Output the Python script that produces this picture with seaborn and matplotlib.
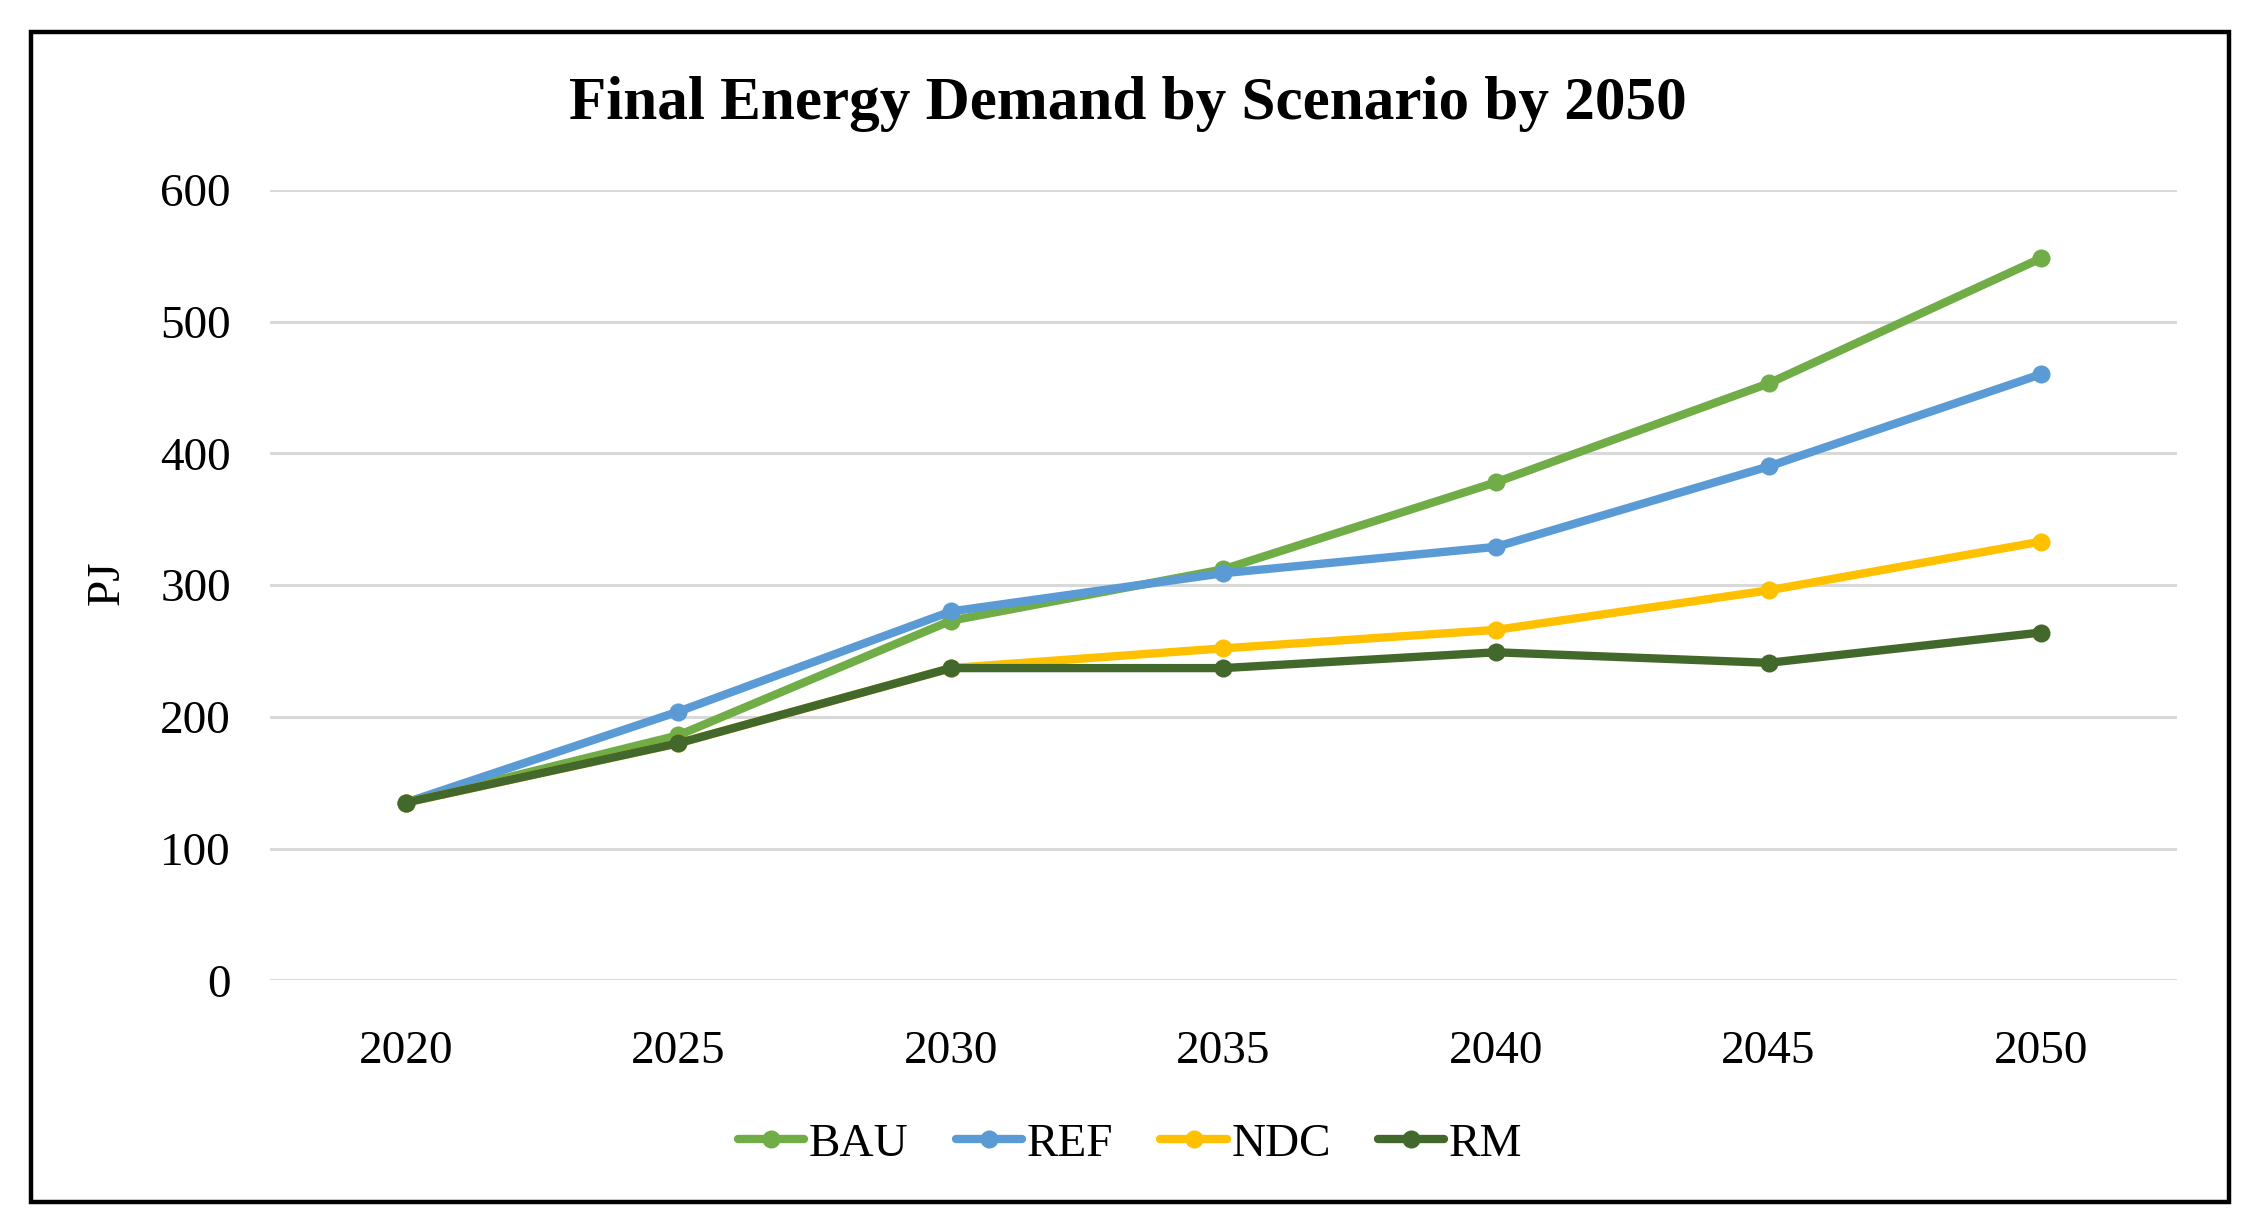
import numpy as np
import pandas as pd
import seaborn as sns
import matplotlib.pyplot as plt
from matplotlib.patches import Rectangle

# ------------------------------------------ Data ------------------------------------------ #
years = ['2020', '2025', '2030', '2035', '2040', '2045', '2050']
bau = [135, 186, 273, 312, 378, 453, 548]
ref = [135, 204, 280, 309, 329, 390, 460]
ndc = [135, 180, 237, 252, 266, 296, 333]
rm = [135, 180, 237, 237, 249, 241, 264]
scenarios = ['BAU', 'REF', 'NDC', 'RM']
colors = ['#70AD47', '#5B9BD5', '#FFC000', '#43682B']

df = pd.concat([
    pd.DataFrame({'Year': years, 'PJ': vals, 'Scenario': name})
    for name, vals in zip(scenarios, [bau, ref, ndc, rm])
], ignore_index=True)

# ------------------------------------------ Style ------------------------------------------ #
sns.set_theme(style='white')
font_name = 'Liberation Serif'
plt.rcParams['font.family'] = [font_name, 'DejaVu Serif']
plt.rcParams['text.color'] = 'black'
plt.rcParams['axes.labelcolor'] = 'black'

fig = plt.figure(figsize=(11.235, 6.12), dpi=200)
ax = fig.add_axes([0.120, 0.199, 0.849, 0.646])

sns.lineplot(data=df, x='Year', y='PJ', hue='Scenario', hue_order=scenarios,
             palette=colors, marker='o', markersize=6.5, markeredgewidth=0,
             linewidth=3, sort=False, ax=ax, legend=True)

ax.set_ylim(0, 600)
ax.set_xlim(-0.5, 6.5)
ax.set_yticks(np.arange(0, 601, 100))
ax.yaxis.grid(True, color='#D9D9D9', linewidth=1.1)
ax.set_axisbelow(True)
for s in ax.spines.values():
    s.set_visible(False)
ax.tick_params(axis='both', length=0, labelsize=17, colors='black')
ax.tick_params(axis='x', pad=18)
ax.tick_params(axis='y', pad=14)
ax.set_xlabel('')
ax.set_ylabel('')

fig.text(0.048, 0.524, 'PJ', rotation=90, fontsize=17, ha='center', va='center')
fig.text(0.502, 0.915, 'Final Energy Demand by Scenario by 2050', fontsize=22,
         fontweight='bold', ha='center', va='center')

handles, labels = ax.get_legend_handles_labels()
ax.legend(handles, labels, loc='center', bbox_to_anchor=(0.503, 0.065),
          bbox_transform=fig.transFigure, ncol=4, frameon=False, fontsize=17,
          handlelength=1.4, handletextpad=0.1, columnspacing=1.0)

fig.patches.append(Rectangle((0.014, 0.018), 0.978, 0.956, transform=fig.transFigure,
                             fill=False, edgecolor='black', linewidth=1.6))

fig.savefig('out.png', dpi=200)
